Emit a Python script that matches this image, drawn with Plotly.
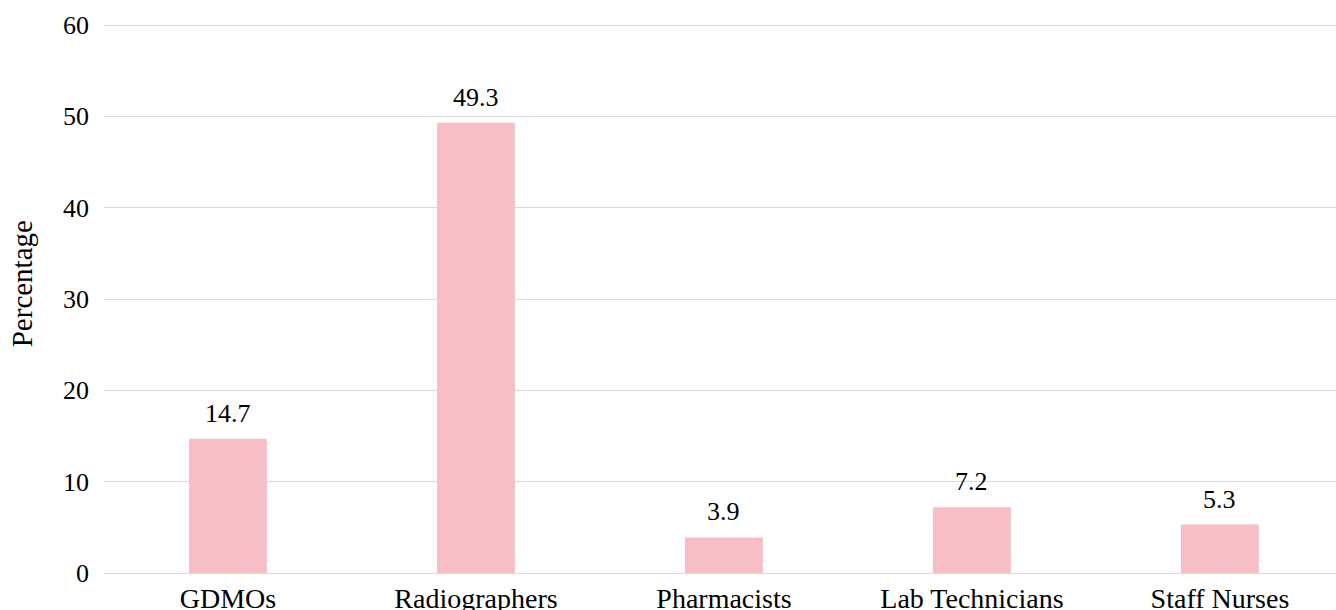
import plotly.graph_objects as go

categories = ["GDMOs", "Radiographers", "Pharmacists", "Lab Technicians", "Staff Nurses"]
values = [14.7, 49.3, 3.9, 7.2, 5.3]
y_ticks = [0, 10, 20, 30, 40, 50, 60]

FONT = "Liberation Serif"

fig = go.Figure(go.Bar(
    x=categories, y=values,
    width=0.314,
    marker=dict(color="#F7BEC6", line=dict(width=0)),
    hoverinfo="x+y",
))

for c, v in zip(categories, values):
    fig.add_annotation(
        x=c, y=v, text=f"{v:.1f}", showarrow=False,
        yanchor="bottom", yshift=9,
        font=dict(family=FONT, size=26, color="#000000"),
    )

# y-axis title as annotation (positioned like the reference)
fig.add_annotation(
    xref="paper", yref="paper", x=0, y=0.524, xshift=-82,
    text="Percentage", textangle=-90, showarrow=False,
    xanchor="center", yanchor="middle",
    font=dict(family=FONT, size=29, color="#000000"),
)

fig.update_layout(
    width=1336, height=610,
    margin=dict(l=104, r=0, t=22, b=37),
    plot_bgcolor="white", paper_bgcolor="white",
    font=dict(family=FONT, size=26, color="#000000"),
    showlegend=False,
)
fig.update_xaxes(
    range=[-0.5, 4.468], automargin=False,
    showgrid=False, showline=True, linecolor="#d9d9d9", linewidth=1,
    ticks="", tickfont=dict(family=FONT, size=28),
    ticklabelstandoff=0,
)
fig.update_yaxes(
    range=[0, 60.33], tickvals=y_ticks, automargin=False,
    showgrid=True, gridcolor="#d9d9d9", gridwidth=1,
    zeroline=False, showline=False, ticks="",
    tickfont=dict(family=FONT, size=26),
    ticklabelstandoff=14,
)

fig.write_html(
    "out.html",
    config={"displayModeBar": False},
    post_script="document.body.style.margin='0';document.body.style.overflow='hidden';",
)
